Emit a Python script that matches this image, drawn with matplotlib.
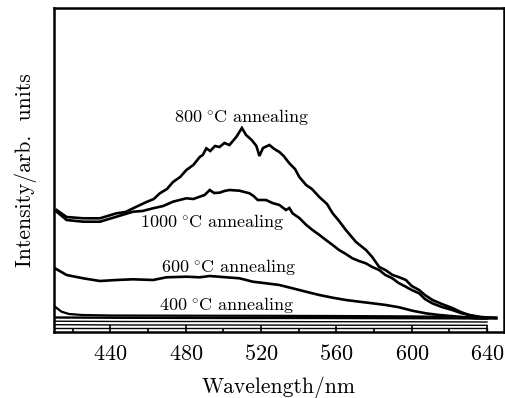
import matplotlib
matplotlib.use("Agg")
import matplotlib.pyplot as plt
from matplotlib.ticker import MultipleLocator

plt.rcParams['font.family'] = ['cmr10', 'DejaVu Serif']
plt.rcParams['mathtext.fontset'] = 'cm'
plt.rcParams['axes.unicode_minus'] = False
plt.rcParams['axes.formatter.use_mathtext'] = True

# ---- data (arbitrary intensity units) ----
wl_800 = [411.4, 416.7, 425.5, 434.4, 443.2, 448.0, 452.0, 459.1, 463.0, 466.2,
          470.0, 473.2, 477.0, 480.3, 484.0, 487.4, 489.0, 490.9, 493.0, 495.5,
          497.9, 500.5, 503.2, 505.0, 506.8, 509.8, 512.0, 515.0, 517.5, 519.1,
          521.0, 524.4, 527.0, 529.7, 532.0, 535.0, 538.0, 540.3, 543.9, 547.0,
          550.9, 555.0, 558.0, 561.0, 565.0, 570.4, 575.7, 579.0, 582.7, 586.0,
          589.8, 593.0, 596.9, 600.0, 603.9, 607.0, 611.0, 616.0, 621.5, 626.0,
          630.4, 637.0, 644.7]
int_800 = [122, 115, 113.7, 113.7, 118.7, 120, 123.7, 130, 133, 138.7,
           143, 150, 155, 162, 167, 175, 177, 183.7, 181, 186,
           185, 189, 187, 191, 195, 204, 197, 192, 186, 176,
           184, 187, 183, 180, 176, 168.7, 163, 155, 147, 143,
           135, 128, 118.7, 112, 102, 90, 82, 75, 65, 62,
           57, 55, 52, 46, 42, 37, 32, 28, 24, 20,
           17, 15, 14]

wl_1000 = [411.4, 416.7, 425.5, 434.4, 443.2, 452.0, 457.0, 462.6, 468.0, 473.2,
           480.3, 484.0, 487.4, 490.0, 492.7, 495.0, 497.9, 500.5, 503.2, 508.5,
           513.8, 516.0, 518.2, 522.6, 526.0, 529.7, 533.2, 535.0, 536.7, 540.3,
           544.0, 547.3, 551.0, 554.4, 558.0, 561.4, 565.0, 568.5, 572.0, 575.6,
           579.0, 582.7, 586.0, 589.7, 593.0, 596.8, 600.0, 603.9, 607.0, 610.9,
           616.0, 621.5, 626.0, 630.4, 637.0]
int_1000 = [120.3, 112, 110.3, 110.3, 115.3, 120.3, 121, 123.7, 126, 130.3,
            133.7, 133, 135.3, 137, 142, 139, 139.3, 141, 142, 141.3,
            138.7, 136, 132, 132, 129, 127, 122, 124, 118.7, 114,
            107, 102, 97, 92, 87, 82, 78, 73.7, 71, 68.7,
            65, 62, 57, 53.7, 49, 45.3, 42, 38.7, 33, 28.7,
            25, 22, 19, 17, 14]

wl_600 = [410.5, 416.7, 425.5, 434.4, 443.2, 452.0, 462.6, 469.7, 480.3, 487.4,
          492.7, 501.5, 508.5, 515.6, 522.6, 529.7, 536.7, 543.8, 550.9, 558.0,
          565.0, 572.1, 579.2, 586.2, 593.3, 600.3, 607.4, 614.5, 625.0, 633.9,
          640.0]
int_600 = [63.7, 57, 53.7, 51, 52, 52.7, 52, 54.7, 55.3, 54.7,
           56, 54.7, 53.7, 50.3, 48.7, 47, 43.7, 40.3, 37, 34.3,
           32, 30.3, 28.7, 27, 24.7, 21.3, 18.7, 17, 15.3, 13.7,
           13.5]

wl_400 = [410.5, 414.0, 418.0, 425.0, 440.0, 480.0, 520.0, 560.0, 600.0, 645.0]
int_400 = [25.3, 20.3, 18.0, 17.0, 16.5, 16.3, 16.2, 16.0, 15.6, 14.5]

wl_base_a = [410.5, 450.0, 500.0, 550.0, 600.0, 645.0]
int_base_a = [14.5, 14.2, 14.0, 14.0, 13.8, 13.5]

wl_base_b = [410.5, 450.0, 500.0, 550.0, 600.0, 640.0]
int_base_b = [10.8, 10.5, 10.5, 10.3, 10.2, 10.0]

wl_base_c = [410.5, 450.0, 500.0, 550.0, 600.0, 640.0]
int_base_c = [7.3, 7.0, 7.0, 6.8, 6.8, 6.7]

wl_base_d = [410.5, 640.0, 640.0]
int_base_d = [4.5, 4.5, 0.0]

labels = ['800$\\;^{\\circ}$C annealing', '1000$\\;^{\\circ}$C annealing',
          '600$\\;^{\\circ}$C annealing', '400$\\;^{\\circ}$C annealing']

# ---- figure ----
fig = plt.figure(figsize=(5.05, 3.98), dpi=100)
ax = fig.add_axes([54 / 505, 66 / 398, 450 / 505, 324 / 398])

for w, v, lw in [(wl_800, int_800, 1.9), (wl_1000, int_1000, 1.9),
                 (wl_600, int_600, 1.9), (wl_400, int_400, 1.6),
                 (wl_base_a, int_base_a, 1.7), (wl_base_b, int_base_b, 1.0),
                 (wl_base_c, int_base_c, 1.0), (wl_base_d, int_base_d, 1.0)]:
    ax.plot(w, v, color='black', lw=lw, solid_joinstyle='miter')

ax.text(510, 215, labels[0], ha='center', va='center', fontsize=13)
ax.text(494, 110, labels[1], ha='center', va='center', fontsize=13)
ax.text(503, 65, labels[2], ha='center', va='center', fontsize=13)
ax.text(502, 27, labels[3], ha='center', va='center', fontsize=13)

ax.set_xlim(410, 649)
ax.set_ylim(0, 324)
ax.set_xticks([440, 480, 520, 560, 600, 640])
ax.xaxis.set_minor_locator(MultipleLocator(20))
ax.set_yticks([])
ax.tick_params(axis='x', which='major', direction='in', length=5, width=1.2,
               labelsize=16, pad=9)
ax.tick_params(axis='x', which='minor', direction='in', length=2, width=1.2)
for s in ax.spines.values():
    s.set_linewidth(1.8)

ax.set_xlabel('Wavelength/nm', fontsize=15.5, labelpad=8.5)
ax.set_ylabel('Intensity/arb.  units', fontsize=15.5, labelpad=12)

fig.savefig('out.png', dpi=100)
